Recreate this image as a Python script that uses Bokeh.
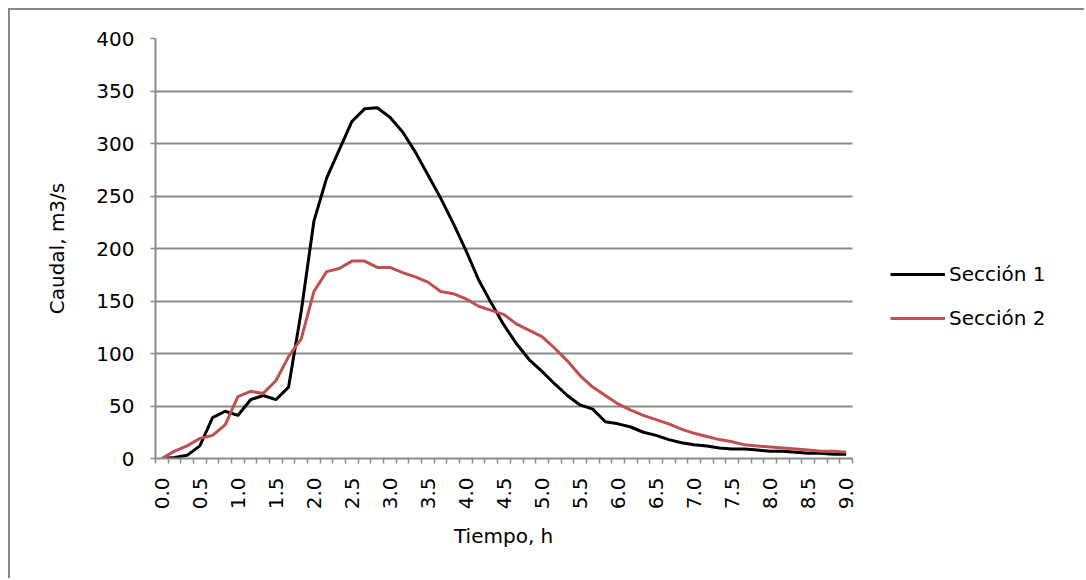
import math
from bokeh.plotting import figure
from bokeh.models import (Range1d, FixedTicker, NumeralTickFormatter, Legend, LegendItem, Title)
from bokeh.embed import file_html
from bokeh.resources import INLINE

# Tiempo (h), one category every 10 minutes
tiempo = [0.0, 0.167, 0.333, 0.5, 0.667, 0.833, 1.0, 1.167, 1.333, 1.5, 1.667, 1.833,
          2.0, 2.167, 2.333, 2.5, 2.667, 2.833, 3.0, 3.167, 3.333, 3.5, 3.667, 3.833,
          4.0, 4.167, 4.333, 4.5, 4.667, 4.833, 5.0, 5.167, 5.333, 5.5, 5.667, 5.833,
          6.0, 6.167, 6.333, 6.5, 6.667, 6.833, 7.0, 7.167, 7.333, 7.5, 7.667, 7.833,
          8.0, 8.167, 8.333, 8.5, 8.667, 8.833, 9.0]

seccion1 = [0, 1, 3, 12, 39, 45, 41, 56, 60, 56, 68, 140,
            226, 267, 294, 321, 333, 334, 325, 311, 292, 270, 248, 224,
            198, 170, 148, 127, 109, 94, 83, 71, 60, 51, 47, 35,
            33, 30, 25, 22, 18, 15, 13, 12, 10, 9, 9, 8,
            7, 7, 6, 5, 5, 4, 4]

seccion2 = [0, 7, 12, 19, 22, 32, 59, 64, 62, 74, 97, 114,
            159, 178, 181, 188, 188, 182, 182, 177, 173, 168, 159, 157,
            152, 145, 141, 137, 128, 122, 116, 105, 93, 79, 68, 60,
            52, 46, 41, 37, 33, 28, 24, 21, 18, 16, 13, 12,
            11, 10, 9, 8, 7, 7, 6]

series_names = ["Sección 1", "Sección 2"]
series_colors = ["#000000", "#C0504D"]

x_tick_values = [0.0, 0.5, 1.0, 1.5, 2.0, 2.5, 3.0, 3.5, 4.0, 4.5, 5.0, 5.5, 6.0,
                 6.5, 7.0, 7.5, 8.0, 8.5, 9.0]
y_tick_values = [0, 50, 100, 150, 200, 250, 300, 350, 400]

FONT = "DejaVu Sans"
FS = "20px"
GRID = "#898989"
step = 1.0 / 6.0

# layout (px)
W, H = 1076, 570
LEFT, TOP = 145, 28
AXIS_PX = 697          # width of the category axis
FRAME_W = W - LEFT     # frame extends to the right edge (legend lives inside it)
FRAME_H = 420

x0 = -step / 2
x_axis_end = 9 + step / 2
x_end = x0 + FRAME_W * (x_axis_end - x0) / AXIS_PX

p = figure(width=W, height=H, output_backend="svg", toolbar_location=None,
           x_range=Range1d(x0, x_end), y_range=Range1d(0, 400),
           min_border_left=LEFT, min_border_right=0, min_border_top=TOP,
           min_border_bottom=H - TOP - FRAME_H)
p.styles = {"margin-top": "8px", "margin-left": "8px",
            "border-top": "2px solid #868686", "border-left": "2px solid #868686"}
p.outline_line_color = None
p.background_fill_color = "white"
p.border_fill_color = "white"

# grid lines limited to the category axis extent
p.xgrid.grid_line_color = None
yg = p.ygrid[0]
yg.ticker = FixedTicker(ticks=y_tick_values)
if "cross_bounds" in yg.properties():
    yg.cross_bounds = (x0, x_axis_end)
    yg.grid_line_color = GRID
    yg.grid_line_width = 2
else:
    yg.grid_line_color = None
    p.segment(x0=[x0] * len(y_tick_values), x1=[x_axis_end] * len(y_tick_values),
              y0=y_tick_values, y1=y_tick_values, line_color=GRID, line_width=2)

r1 = p.line(tiempo, seccion1, line_color=series_colors[0], line_width=3)
r2 = p.line(tiempo, seccion2, line_color=series_colors[1], line_width=3)

# x axis
xa = p.xaxis[0]
minor = [(-0.5 + i) * step for i in range(56)]
xa.bounds = (x0, x_axis_end)
xa.ticker = FixedTicker(ticks=x_tick_values, minor_ticks=minor)
xa.formatter = NumeralTickFormatter(format="0.0")
xa.major_label_orientation = math.pi / 2
xa.major_tick_out = 0
xa.major_tick_in = 0
xa.minor_tick_out = 5
xa.minor_tick_in = 0
xa.minor_tick_line_color = GRID
xa.minor_tick_line_width = 1.5
xa.axis_line_color = GRID
xa.axis_line_width = 2
xa.major_label_standoff = 14
xa.major_label_text_font = FONT
xa.major_label_text_font_size = FS
xa.major_label_text_color = "#000000"

# x axis title, centred under the category axis (not under the whole frame)
xtitle_text = "Tiempo, h"
xtitle = Title(text=xtitle_text, align="left", offset=AXIS_PX / 2 - 50,
               vertical_align="top", standoff=22,
               text_font=FONT, text_font_size=FS, text_font_style="normal",
               text_color="#000000")
p.add_layout(xtitle, "below")

# y axis
ya = p.yaxis[0]
ya.ticker = FixedTicker(ticks=y_tick_values)
ya.major_tick_out = 5
ya.major_tick_in = 0
ya.major_tick_line_color = GRID
ya.major_tick_line_width = 1.5
ya.minor_tick_line_color = None
ya.axis_line_color = GRID
ya.axis_line_width = 2
ya.major_label_standoff = 16
ya.major_label_text_font = FONT
ya.major_label_text_font_size = FS
ya.major_label_text_color = "#000000"
ya.axis_label = "Caudal, m3/s"
ya.axis_label_text_font = FONT
ya.axis_label_text_font_size = FS
ya.axis_label_text_font_style = "normal"
ya.axis_label_text_color = "#000000"
ya.axis_label_standoff = 24

legend = Legend(items=[LegendItem(label=series_names[0], renderers=[r1]),
                       LegendItem(label=series_names[1], renderers=[r2])],
                location=(735, 128), orientation="vertical",
                glyph_width=55, glyph_height=20, label_height=20,
                label_standoff=4, spacing=20, padding=0, margin=0,
                border_line_color=None, background_fill_alpha=0,
                label_text_font=FONT, label_text_font_size=FS,
                label_text_color="#000000")
p.add_layout(legend, "center")

open("out.html", "w").write(file_html(p, INLINE))
